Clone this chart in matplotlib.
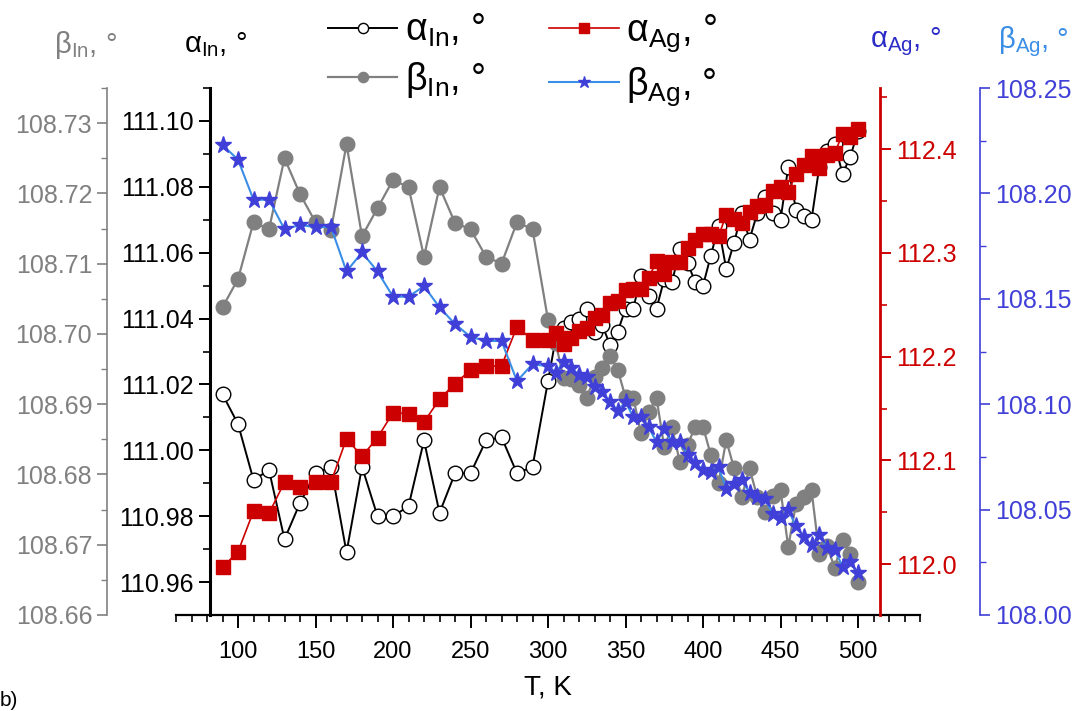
import matplotlib
matplotlib.use("Agg")
import matplotlib.pyplot as plt
from matplotlib.ticker import MultipleLocator, FormatStrFormatter

plt.rcParams['font.family'] = ['Liberation Sans', 'DejaVu Sans']
plt.rcParams['mathtext.fontset'] = 'custom'
plt.rcParams['mathtext.rm'] = 'Liberation Sans'

# temperatures, K
T = [90, 100, 110, 120, 130, 140, 150, 160, 170, 180, 190, 200, 210, 220, 230, 240,
     250, 260, 270, 280, 290, 300, 305, 310, 315, 320, 325, 330, 335, 340, 345, 350,
     355, 360, 365, 370, 375, 380, 385, 390, 395, 400, 405, 410, 415, 420, 425, 430,
     435, 440, 445, 450, 455, 460, 465, 470, 475, 480, 485, 490, 495, 500]

alpha_in = [111.017, 111.008, 110.991, 110.994, 110.973, 110.984, 110.993, 110.995,
            110.969, 110.995, 110.980, 110.980, 110.983, 111.003, 110.981, 110.993,
            110.993, 111.003, 111.004, 110.993, 110.995, 111.021, 111.034, 111.037,
            111.039, 111.040, 111.043, 111.036, 111.038, 111.032, 111.036, 111.043,
            111.043, 111.053, 111.047, 111.043, 111.052, 111.051, 111.061, 111.057,
            111.051, 111.050, 111.059, 111.068, 111.055, 111.063, 111.072, 111.064,
            111.072, 111.077, 111.072, 111.070, 111.086, 111.073, 111.071, 111.070,
            111.086, 111.091, 111.093, 111.084, 111.089, 111.097]

beta_in = [108.7038, 108.7078, 108.7159, 108.7149, 108.7250, 108.7199, 108.7159, 108.7148,
           108.7270, 108.7139, 108.7179, 108.7219, 108.7209, 108.7110, 108.7209, 108.7158,
           108.7149, 108.7110, 108.7100, 108.7159, 108.7149, 108.7020, 108.6987, 108.6937,
           108.6936, 108.6927, 108.6909, 108.6939, 108.6952, 108.6969, 108.6949, 108.6910,
           108.6909, 108.6859, 108.6889, 108.6909, 108.6839, 108.6868, 108.6818, 108.6842,
           108.6868, 108.6868, 108.6828, 108.6788, 108.6849, 108.6809, 108.6768, 108.6809,
           108.6768, 108.6747, 108.6769, 108.6778, 108.6697, 108.6758, 108.6768, 108.6778,
           108.6687, 108.6698, 108.6667, 108.6707, 108.6687, 108.6647]

alpha_ag = [111.997, 112.012, 112.051, 112.049, 112.079, 112.074, 112.079, 112.079,
            112.121, 112.104, 112.122, 112.146, 112.145, 112.137, 112.159, 112.174,
            112.187, 112.191, 112.191, 112.229, 112.216, 112.216, 112.223, 112.212,
            112.218, 112.225, 112.228, 112.237, 112.240, 112.252, 112.254, 112.264,
            112.265, 112.265, 112.276, 112.292, 112.280, 112.291, 112.291, 112.305,
            112.312, 112.318, 112.318, 112.316, 112.337, 112.333, 112.329, 112.339,
            112.345, 112.346, 112.360, 112.364, 112.359, 112.376, 112.385, 112.393,
            112.382, 112.394, 112.396, 112.415, 112.412, 112.419]

beta_ag = [108.223, 108.216, 108.197, 108.197, 108.183, 108.185, 108.184, 108.184,
           108.163, 108.172, 108.163, 108.151, 108.151, 108.156, 108.146, 108.138,
           108.132, 108.130, 108.130, 108.111, 108.119, 108.118, 108.115, 108.120,
           108.117, 108.114, 108.113, 108.108, 108.106, 108.101, 108.097, 108.101,
           108.094, 108.094, 108.089, 108.082, 108.088, 108.082, 108.082, 108.076,
           108.072, 108.069, 108.068, 108.070, 108.060, 108.062, 108.064, 108.058,
           108.056, 108.055, 108.048, 108.046, 108.050, 108.042, 108.037, 108.033,
           108.038, 108.032, 108.031, 108.023, 108.025, 108.020]

c_gray = '#808080'
c_red = '#cc0000'
c_blue = '#4040d8'
c_lblue = '#3a8ee6'

fig = plt.figure(figsize=(10.84, 7.11), dpi=100)
ax = fig.add_axes([176/1084, 1 - 615/711, 744/1084, 527/711])
ax_g = ax.twinx()
ax_r = ax.twinx()
ax_b = ax.twinx()

for a in (ax, ax_g, ax_r, ax_b):
    for s in a.spines.values():
        s.set_visible(False)
    a.patch.set_visible(False)

l1, = ax.plot(T, alpha_in, '-o', color='black', lw=1.4, ms=10.5, mfc='white', mec='black', mew=1.0)
l2, = ax_g.plot(T, beta_in, '-o', color=c_gray, lw=1.6, ms=10.5, mfc=c_gray, mec=c_gray)
l3, = ax_r.plot(T, alpha_ag, '-s', color=c_red, lw=1.2, ms=10, mfc=c_red, mec=c_red)
l4, = ax_b.plot(T, beta_ag, '-*', color=c_lblue, lw=1.5, ms=12.5, mfc=c_blue, mec=c_blue)

ax.set_xlim(60, 540)
ax.xaxis.set_major_locator(MultipleLocator(50))
ax.xaxis.set_minor_locator(MultipleLocator(10))
ax.spines['bottom'].set_visible(True)
ax.spines['bottom'].set_linewidth(1.6)
ax.tick_params(axis='x', which='major', direction='out', length=9, width=1.4, labelsize=17, pad=10)
ax.tick_params(axis='x', which='minor', direction='out', length=5, width=1.2)
ax.set_xlabel('T, K', fontsize=20, labelpad=8)

# black axis (alpha In)
ax.set_ylim(110.95, 111.11)
ax.spines['left'].set_visible(True)
ax.spines['left'].set_position(('axes', 0.0457))
ax.spines['left'].set_linewidth(2.2)
ax.yaxis.set_major_locator(MultipleLocator(0.02))
ax.yaxis.set_minor_locator(MultipleLocator(0.01))
ax.yaxis.set_major_formatter(FormatStrFormatter('%.2f'))
ax.tick_params(axis='y', which='major', direction='out', length=8, width=1.4, labelsize=18)
ax.tick_params(axis='y', which='minor', direction='out', length=5, width=1.2)

# gray axis (beta In)
ax_g.set_ylim(108.66, 108.735)
ax_g.yaxis.set_ticks_position('left')
ax_g.yaxis.set_label_position('left')
ax_g.spines['left'].set_visible(True)
ax_g.spines['left'].set_position(('axes', -0.093))
ax_g.spines['left'].set_color(c_gray)
ax_g.spines['left'].set_linewidth(1.2)
ax_g.yaxis.set_major_locator(MultipleLocator(0.01))
ax_g.yaxis.set_minor_locator(MultipleLocator(0.005))
ax_g.yaxis.set_major_formatter(FormatStrFormatter('%.2f'))
ax_g.tick_params(axis='y', which='both', direction='out', colors=c_gray, labelsize=18)
ax_g.tick_params(axis='y', which='major', length=7, width=1.2)
ax_g.tick_params(axis='y', which='minor', length=4, width=1.0)

# red axis (alpha Ag)
ax_r.set_ylim(111.951, 112.459)
ax_r.spines['right'].set_visible(True)
ax_r.spines['right'].set_position(('axes', 0.946))
ax_r.spines['right'].set_color(c_red)
ax_r.spines['right'].set_linewidth(2.0)
ax_r.yaxis.set_major_locator(MultipleLocator(0.1))
ax_r.yaxis.set_minor_locator(MultipleLocator(0.05))
ax_r.yaxis.set_major_formatter(FormatStrFormatter('%.1f'))
ax_r.tick_params(axis='y', which='both', direction='out', colors=c_red, labelsize=18)
ax_r.tick_params(axis='y', which='major', length=8, width=1.4)
ax_r.tick_params(axis='y', which='minor', length=5, width=1.2)

# blue axis (beta Ag)
ax_b.set_ylim(108.0, 108.25)
ax_b.spines['right'].set_visible(True)
ax_b.spines['right'].set_position(('axes', 1.081))
ax_b.spines['right'].set_color(c_blue)
ax_b.spines['right'].set_linewidth(1.2)
ax_b.yaxis.set_major_locator(MultipleLocator(0.05))
ax_b.yaxis.set_minor_locator(MultipleLocator(0.025))
ax_b.yaxis.set_major_formatter(FormatStrFormatter('%.2f'))
ax_b.tick_params(axis='y', which='both', direction='out', colors=c_blue, labelsize=18)
ax_b.tick_params(axis='y', which='major', length=7, width=1.2)
ax_b.tick_params(axis='y', which='minor', length=4, width=1.0)

# axis titles on top
fig.text(85/1084, 1 - 45/711, r'β$_{\mathregular{In}}$, °', color=c_gray, fontsize=21, ha='center', va='center')
fig.text(215/1084, 1 - 45/711, r'α$_{\mathregular{In}}$, °', color='black', fontsize=21, ha='center', va='center')
fig.text(905/1084, 1 - 42/711, r'α$_{\mathregular{Ag}}$, °', color='#2b2bc8', fontsize=21, ha='center', va='center')
fig.text(1033/1084, 1 - 42/711, r'β$_{\mathregular{Ag}}$, °', color=c_lblue, fontsize=21, ha='center', va='center')

fig.legend([l1, l2, l3, l4],
           [r'α$_{\mathregular{In}}$, °', r'β$_{\mathregular{In}}$, °',
            r'α$_{\mathregular{Ag}}$, °', r'β$_{\mathregular{Ag}}$, °'],
           loc='upper center', bbox_to_anchor=(0.482, 1.015), ncol=2, frameon=False,
           fontsize=27, handlelength=1.85, handletextpad=0.2, columnspacing=1.7,
           markerscale=0.7, borderaxespad=0.2, labelspacing=0.3)

fig.text(0.0, 0.002, 'b)', fontsize=15, ha='left', va='bottom')

fig.savefig('out.png', dpi=100)
